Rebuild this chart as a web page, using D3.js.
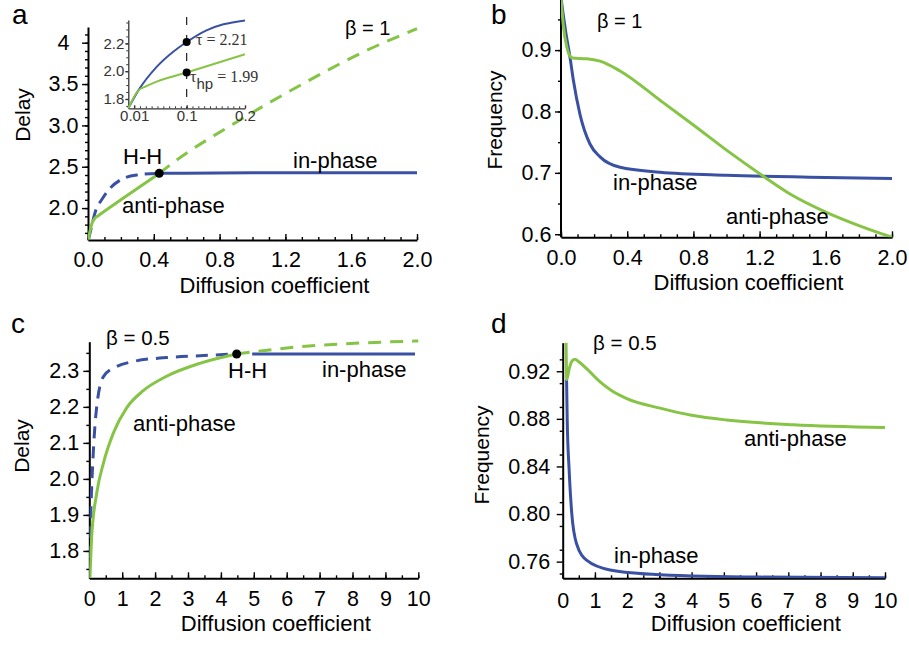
<!DOCTYPE html>
<html>
<head>
<meta charset="utf-8">
<script src="https://cdn.jsdelivr.net/npm/d3@7"></script>
<style>
  body { margin: 0; background: #fff; }
  svg { display: block; font-family: "Liberation Sans", Arial, Helvetica, sans-serif; }
</style>
</head>
<body>
<script>
// ---------- Panel a (beta = 1): delay vs diffusion coefficient ----------
const aInPhaseUnstableD = [0.003, 0.015, 0.03, 0.05, 0.083, 0.124, 0.195, 0.296, 0.433];
const aInPhaseUnstableV = [1.62, 1.72, 1.85, 1.99, 2.10, 2.217, 2.338, 2.40, 2.42];
const aInPhaseStableD   = [0.433, 1.0, 2.0];
const aInPhaseStableV   = [2.42, 2.426, 2.426];
const aAntiStableD      = [0.003, 0.012, 0.025, 0.043, 0.06, 0.2, 0.433];
const aAntiStableV      = [1.62, 1.72, 1.82, 1.88, 1.905, 2.10, 2.42];
const aAntiUnstableD    = [0.433, 0.539, 0.904, 1.309, 1.674, 2.0];
const aAntiUnstableV    = [2.42, 2.58, 3.042, 3.506, 3.888, 4.17];
const aHopfHopf         = [0.433, 2.42];
const aXTicks  = [0, 0.4, 0.8, 1.2, 1.6, 2.0];
const aXLabels = ["0.0", "0.4", "0.8", "1.2", "1.6", "2.0"];
const aYTicks  = [2.0, 2.5, 3.0, 3.5, 4.0];
const aYLabels = ["2.0", "2.5", "3.0", "3.5", "4"];

// Inset of panel a: small diffusion range
const insetInD  = [0.0, 0.017, 0.0486, 0.077, 0.1, 0.134, 0.163, 0.2];
const insetInV  = [1.733, 1.86, 2.031, 2.14, 2.21, 2.294, 2.337, 2.365];
const insetAntiD = [0.0, 0.017, 0.03, 0.0486, 0.1, 0.2];
const insetAntiV = [1.733, 1.86, 1.89, 1.925, 1.99, 2.122];
const insetTau   = [0.1, 2.21];
const insetTauHp = [0.1, 1.99];
const insetXTicks  = [0.01, 0.1, 0.2];
const insetXLabels = ["0.01", "0.1", "0.2"];
const insetYTicks  = [1.8, 2.0, 2.2];
const insetYLabels = ["1.8", "2.0", "2.2"];

// ---------- Panel b (beta = 1): frequency vs diffusion coefficient ----------
const bInPhaseD = [0.0, 0.015, 0.03, 0.054, 0.074, 0.115, 0.175, 0.236, 0.357, 0.598, 1.0, 1.5, 2.0];
const bInPhaseV = [0.985, 0.955, 0.927, 0.889, 0.852, 0.795, 0.747, 0.726, 0.709, 0.701, 0.696, 0.693, 0.691];
const bAntiD = [0.0, 0.014, 0.035, 0.05, 0.07, 0.155, 0.236, 0.357, 0.6, 0.8, 1.0, 1.22, 1.4, 1.6, 1.8, 2.0];
const bAntiV = [0.985, 0.94, 0.905, 0.892, 0.887, 0.886, 0.882, 0.866, 0.818, 0.778, 0.737, 0.695, 0.663, 0.636, 0.614, 0.595];
const bXTicks  = [0, 0.4, 0.8, 1.2, 1.6, 2.0];
const bXLabels = ["0.0", "0.4", "0.8", "1.2", "1.6", "2.0"];
const bYTicks  = [0.6, 0.7, 0.8, 0.9];
const bYLabels = ["0.6", "0.7", "0.8", "0.9"];

// ---------- Panel c (beta = 0.5): delay vs diffusion coefficient ----------
const cInPhaseUnstableD = [0.0, 0.04, 0.12, 0.225, 0.43, 0.83, 1.34, 2.35, 3.36, 4.48];
const cInPhaseUnstableV = [1.724, 1.886, 2.071, 2.2, 2.284, 2.312, 2.326, 2.337, 2.342, 2.347];
const cInPhaseStableD   = [4.95, 9.9];
const cInPhaseStableV   = [2.347, 2.347];
const cAntiStableD      = [0.02, 0.073, 0.225, 0.43, 0.73, 1.14, 1.64, 2.35, 3.36, 4.48];
const cAntiStableV      = [1.724, 1.84, 1.96, 2.044, 2.127, 2.198, 2.245, 2.285, 2.321, 2.347];
const cAntiUnstableD    = [4.48, 6.4, 8.43, 10.0];
const cAntiUnstableV    = [2.347, 2.367, 2.378, 2.383];
const cHopfHopf         = [4.48, 2.347];
const cXTicks  = [0, 1, 2, 3, 4, 5, 6, 7, 8, 9, 10];
const cXLabels = ["0", "1", "2", "3", "4", "5", "6", "7", "8", "9", "10"];
const cYTicks  = [1.8, 1.9, 2.0, 2.1, 2.2, 2.3];
const cYLabels = ["1.8", "1.9", "2.0", "2.1", "2.2", "2.3"];

// ---------- Panel d (beta = 0.5): frequency vs diffusion coefficient ----------
const dInPhaseD = [0.12, 0.14, 0.2, 0.28, 0.43, 0.75, 1.47, 3.02, 6.13, 10.0];
const dInPhaseV = [0.913, 0.879, 0.837, 0.801, 0.775, 0.761, 0.753, 0.749, 0.747, 0.7465];
const dAntiD = [0.105, 0.125, 0.2, 0.3, 0.38, 0.5, 0.75, 1.16, 1.5, 1.99, 3.02, 4.0, 5.09, 7.16, 10.0];
const dAntiV = [0.944, 0.913, 0.922, 0.929, 0.930, 0.928, 0.922, 0.911, 0.904, 0.897, 0.889, 0.883, 0.879, 0.875, 0.8727];
const dXTicks  = [0, 1, 2, 3, 4, 5, 6, 7, 8, 9, 10];
const dXLabels = ["0", "1", "2", "3", "4", "5", "6", "7", "8", "9", "10"];
const dYTicks  = [0.76, 0.80, 0.84, 0.88, 0.92];
const dYLabels = ["0.76", "0.80", "0.84", "0.88", "0.92"];

// ---------- drawing ----------
const BLUE = "#3a51a3";
const GREEN = "#86c446";
const svg = d3.select("body").append("svg").attr("width", 909).attr("height", 646);

const pairs = (xs, ys) => d3.zip(xs, ys);
const steps = (a, b, s) => d3.range(Math.round((b - a) / s) + 1).map(i => +(a + i * s).toFixed(4));

function styleAxis(sel, size, color) {
  sel.attr("font-size", size).attr("font-family", null);
  sel.selectAll("line").attr("stroke", color).attr("stroke-width", 1.4);
  sel.select(".domain").attr("stroke", color).attr("stroke-width", 2);
  sel.selectAll("text").attr("fill", color);
}

function drawPanel(p) {
  const g = svg.append("g");
  const x = d3.scaleLinear().domain(p.xDomain).range(p.xRange);
  const y = d3.scaleLinear().domain(p.yDomain).range(p.yRange);
  const base = p.yRange[0];
  const left = p.xRange[0];

  // clip region for the curves
  const clipTop = p.clipTop !== undefined ? p.clipTop : p.yRange[1] - 2;
  svg.append("clipPath").attr("id", "clip-" + p.id).append("rect")
    .attr("x", left).attr("y", clipTop)
    .attr("width", p.xRange[1] - left + 4).attr("height", base - clipTop);

  // minor ticks
  const xm = g.append("g").attr("transform", `translate(0,${base})`)
    .call(d3.axisBottom(x).tickValues(p.xMinor).tickSize(-p.minorLen).tickFormat(""));
  xm.select(".domain").remove();
  styleAxis(xm, p.tickFont, "#000");
  const ym = g.append("g").attr("transform", `translate(${left},0)`)
    .call(d3.axisLeft(y).tickValues(p.yMinor).tickSize(p.minorLen).tickFormat(""));
  ym.select(".domain").remove();
  styleAxis(ym, p.tickFont, "#000");

  // major axes
  const xa = g.append("g").attr("transform", `translate(0,${base})`)
    .call(d3.axisBottom(x).tickValues(p.xTicks).tickFormat((d, i) => p.xLabels[i])
      .tickSize(-p.majorLen).tickSizeOuter(0).tickPadding(p.xPad));
  styleAxis(xa, p.tickFont, "#000");
  const ya = g.append("g").attr("transform", `translate(${left},0)`)
    .call(d3.axisLeft(y).tickValues(p.yTicks).tickFormat((d, i) => p.yLabels[i])
      .tickSize(p.majorLen).tickSizeOuter(0));
  styleAxis(ya, p.tickFont, "#000");
  ya.selectAll("text").attr("text-anchor", "middle").attr("x", -p.yLabelOffset);
  if (p.axisTop !== undefined) {
    ya.select(".domain").attr("d", `M0,${base}V${p.axisTop}`);
  }

  // curves
  const line = d3.line().x(d => x(d[0])).y(d => y(d[1])).curve(d3.curveMonotoneX);
  const curves = g.append("g").attr("clip-path", `url(#clip-${p.id})`);
  p.series.forEach(s => {
    curves.append("path").datum(s.data)
      .attr("d", line)
      .attr("fill", "none")
      .attr("stroke", s.color)
      .attr("stroke-width", s.width || 3)
      .attr("stroke-linecap", "butt")
      .attr("stroke-dasharray", s.dash || null);
  });
  (p.dots || []).forEach(d => {
    g.append("circle").attr("cx", x(d[0])).attr("cy", y(d[1])).attr("r", 4.5).attr("fill", "#000");
  });

  // axis titles
  g.append("text").attr("x", (p.xRange[0] + p.xRange[1]) / 2 + 22).attr("y", base + 53)
    .attr("text-anchor", "middle").attr("font-size", 22).text("Diffusion coefficient");
  g.append("text").attr("transform", `translate(${p.yTitleX},${p.yTitleY}) rotate(-90)`)
    .attr("text-anchor", "middle").attr("font-size", 21).text(p.yTitle);

  // panel letter and annotations
  g.append("text").attr("x", p.letter[1]).attr("y", p.letter[2])
    .attr("font-size", 28).text(p.letter[0]);
  p.notes.forEach(n => {
    g.append("text").attr("x", n[1]).attr("y", n[2]).attr("font-size", n[3] || 22).text(n[0]);
  });
  return { g, x, y };
}

// Panel a
const A = drawPanel({
  id: "a", xDomain: [0, 2], xRange: [88, 417], yDomain: [1.614, 4.19], yRange: [240, 27],
  xTicks: aXTicks, xLabels: aXLabels, yTicks: aYTicks, yLabels: aYLabels,
  xMinor: steps(0, 2, 0.1), yMinor: steps(1.7, 4.1, 0.1),
  minorLen: 3, majorLen: 6, tickFont: 21.5, xPad: 12, yLabelOffset: 24.5,
  yTitle: "Delay", yTitleX: 30, yTitleY: 115,
  series: [
    { data: pairs(aInPhaseUnstableD, aInPhaseUnstableV), color: BLUE, dash: "12,7" },
    { data: pairs(aInPhaseStableD, aInPhaseStableV), color: BLUE },
    { data: pairs(aAntiUnstableD, aAntiUnstableV), color: GREEN, dash: "13,9" },
    { data: pairs(aAntiStableD, aAntiStableV), color: GREEN }
  ],
  dots: [aHopfHopf],
  letter: ["a", 12, 24],
  notes: [["β = 1", 345, 35, 20], ["H-H", 123, 164], ["in-phase", 293, 168], ["anti-phase", 122, 213]]
});

// Inset inside panel a
(function () {
  const g = A.g.append("g");
  const x = d3.scaleLinear().domain([0, 0.2]).range([128.3, 245]);
  const y = d3.scaleLinear().domain([1.733, 2.368]).range([108.3, 20]);
  const xm = g.append("g").attr("transform", "translate(0,108.3)")
    .call(d3.axisBottom(x).tickValues(steps(0.01, 0.2, 0.01)).tickSize(-2).tickFormat(""));
  xm.select(".domain").remove();
  styleAxis(xm, 15, "#333");
  xm.selectAll("line").attr("stroke-width", 1);
  const ym = g.append("g").attr("transform", "translate(128.3,0)")
    .call(d3.axisLeft(y).tickValues(steps(1.75, 2.35, 0.05)).tickSize(2).tickFormat(""));
  ym.select(".domain").remove();
  styleAxis(ym, 15, "#333");
  ym.selectAll("line").attr("stroke-width", 1);
  const xa = g.append("g").attr("transform", "translate(0,108.3)")
    .call(d3.axisBottom(x).tickValues(insetXTicks).tickFormat((d, i) => insetXLabels[i])
      .tickSize(-3).tickSizeOuter(0).tickPadding(2));
  styleAxis(xa, 15, "#333");
  xa.select(".domain").attr("stroke-width", 1.3);
  const ya = g.append("g").attr("transform", "translate(128.3,0)")
    .call(d3.axisLeft(y).tickValues(insetYTicks).tickFormat((d, i) => insetYLabels[i])
      .tickSize(3).tickSizeOuter(0).tickPadding(2));
  styleAxis(ya, 15, "#333");
  ya.select(".domain").attr("stroke-width", 1.3);
  ya.selectAll("text").attr("x", -4);

  // marker line at D = 0.1
  g.append("line").attr("x1", x(0.1)).attr("x2", x(0.1))
    .attr("y1", y(2.368) - 3).attr("y2", y(1.733))
    .attr("stroke", "#222").attr("stroke-width", 1.2).attr("stroke-dasharray", "8,10");

  const line = d3.line().x(d => x(d[0])).y(d => y(d[1])).curve(d3.curveMonotoneX);
  g.append("path").datum(pairs(insetInD, insetInV)).attr("d", line)
    .attr("fill", "none").attr("stroke", BLUE).attr("stroke-width", 2);
  g.append("path").datum(pairs(insetAntiD, insetAntiV)).attr("d", line)
    .attr("fill", "none").attr("stroke", GREEN).attr("stroke-width", 2);
  [insetTau, insetTauHp].forEach(d => {
    g.append("circle").attr("cx", x(d[0])).attr("cy", y(d[1])).attr("r", 4).attr("fill", "#000");
  });
  const serif = "'Liberation Serif', 'Times New Roman', serif";
  g.append("text").attr("x", 196).attr("y", 45).attr("font-size", 16)
    .attr("font-family", serif).attr("fill", "#333").text("τ = 2.21");
  const t = g.append("text").attr("x", 190).attr("y", 81.5).attr("font-size", 16)
    .attr("font-family", serif).attr("fill", "#333");
  t.append("tspan").text("τ");
  t.append("tspan").attr("dy", 7).attr("font-size", 15)
    .attr("font-family", "'Liberation Sans', Arial, sans-serif").text("hp");
  t.append("tspan").attr("dy", -7).text(" = 1.99");
})();

// Panel b
drawPanel({
  id: "b", xDomain: [0, 2], xRange: [561, 892], yDomain: [0.595, 0.98], yRange: [237.3, 1],
  clipTop: 0, axisTop: 0,
  xTicks: bXTicks, xLabels: bXLabels, yTicks: bYTicks, yLabels: bYLabels,
  xMinor: steps(0, 2, 0.1), yMinor: steps(0.6, 0.95, 0.05),
  minorLen: 3, majorLen: 6, tickFont: 21.5, xPad: 12, yLabelOffset: 24.5,
  yTitle: "Frequency", yTitleX: 502, yTitleY: 120,
  series: [
    { data: pairs(bInPhaseD, bInPhaseV), color: BLUE },
    { data: pairs(bAntiD, bAntiV), color: GREEN }
  ],
  letter: ["b", 491, 24],
  notes: [["β = 1", 597, 28, 20], ["in-phase", 613, 190], ["anti-phase", 726, 224]]
});

// Panel c
drawPanel({
  id: "c", xDomain: [0, 10], xRange: [89.3, 418.3], yDomain: [1.724, 2.381], yRange: [578.3, 341.7],
  clipTop: 330,
  xTicks: cXTicks, xLabels: cXLabels, yTicks: cYTicks, yLabels: cYLabels,
  xMinor: steps(0, 10, 0.5), yMinor: steps(1.75, 2.35, 0.05),
  minorLen: 3, majorLen: 6, tickFont: 21.5, xPad: 12, yLabelOffset: 25,
  yTitle: "Delay", yTitleX: 29, yTitleY: 446,
  series: [
    { data: pairs(cInPhaseUnstableD, cInPhaseUnstableV), color: BLUE, dash: "12,8" },
    { data: pairs(cInPhaseStableD, cInPhaseStableV), color: BLUE },
    { data: pairs(cAntiUnstableD, cAntiUnstableV), color: GREEN, dash: "13,9" },
    { data: pairs(cAntiStableD, cAntiStableV), color: GREEN }
  ],
  dots: [cHopfHopf],
  letter: ["c", 11, 333],
  notes: [["β = 0.5", 106, 345, 20.5], ["H-H", 228, 378], ["in-phase", 322, 377], ["anti-phase", 133, 431]]
});

// Panel d
drawPanel({
  id: "d", xDomain: [0, 10], xRange: [562.7, 885], yDomain: [0.746, 0.944], yRange: [578.3, 342.7],
  xTicks: dXTicks, xLabels: dXLabels, yTicks: dYTicks, yLabels: dYLabels,
  xMinor: steps(0, 10, 0.5), yMinor: steps(0.75, 0.94, 0.02),
  minorLen: 3, majorLen: 6, tickFont: 21.5, xPad: 14, yLabelOffset: 33.5,
  yTitle: "Frequency", yTitleX: 489, yTitleY: 455,
  series: [
    { data: pairs(dInPhaseD, dInPhaseV), color: BLUE },
    { data: pairs(dAntiD, dAntiV), color: GREEN }
  ],
  letter: ["d", 491, 333],
  notes: [["β = 0.5", 593, 350, 20.5], ["anti-phase", 744, 446], ["in-phase", 614, 563]]
});
</script>
</body>
</html>
